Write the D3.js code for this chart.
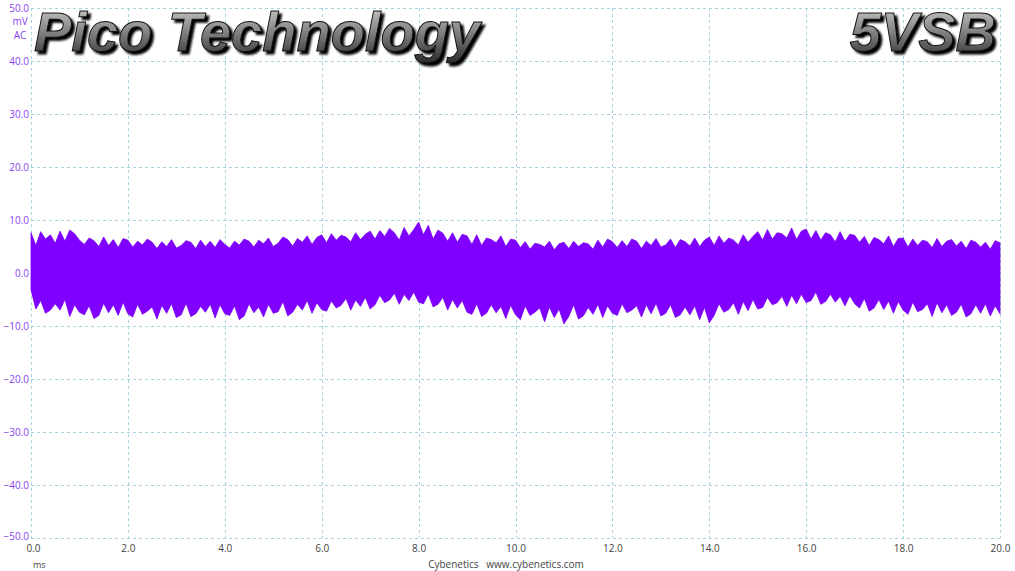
<!DOCTYPE html>
<html><head><meta charset="utf-8">
<script src="https://cdn.jsdelivr.net/npm/d3@7"></script>
<style>html,body{margin:0;padding:0;background:#fff;}svg{display:block;}</style>
</head><body>
<svg id="c" width="1015" height="571"></svg>
<script>
// Time axis (ms), step 0.1 ms
const xStart = 0, xStep = 0.1;
const xTicks = [0,2,4,6,8,10,12,14,16,18,20];
const yTicks = [50,40,30,20,10,0,-10,-20,-30,-40,-50];
// Upper envelope of the ripple band (mV)
const upper = [7.6,5.2,7.8,6.4,7.2,5.6,7.9,6.0,8.1,7.4,6.2,
5.4,6.6,6.1,5.0,6.8,5.2,6.3,4.8,6.5,6.2,
4.9,6.0,5.3,6.4,5.8,4.6,5.9,5.0,6.3,4.7,
5.2,6.1,5.8,4.6,6.2,5.0,6.0,4.8,6.3,5.4,
4.7,6.0,5.3,6.4,6.0,4.9,6.2,5.5,6.6,5.0,
5.6,6.8,6.3,5.1,6.5,5.8,7.0,5.4,6.7,7.2,
5.7,7.4,6.2,7.1,6.8,5.9,7.6,6.3,7.3,7.9,
6.4,8.0,6.9,8.4,7.6,6.2,8.6,7.0,8.2,9.6,
7.2,9.0,6.4,8.1,7.5,6.0,7.6,5.8,7.3,7.0,
5.4,7.2,5.2,6.6,6.3,5.7,7.0,5.0,6.4,6.2,
4.8,5.9,4.5,5.6,5.4,4.9,6.0,4.4,5.5,5.8,
4.6,6.0,5.0,5.7,5.5,4.5,6.2,4.9,6.4,5.9,
4.8,6.1,5.0,6.4,6.0,4.6,6.0,5.2,6.5,4.9,
5.3,6.4,4.8,6.3,5.9,5.1,6.6,5.0,6.2,6.8,
5.2,7.0,5.6,6.6,6.2,5.3,7.2,5.8,6.9,7.8,
6.2,8.2,6.4,7.6,7.4,6.6,8.5,6.3,7.9,8.3,
6.4,8.0,6.2,7.6,7.2,5.9,7.8,6.0,7.3,7.1,
5.8,6.9,5.2,6.7,6.3,5.5,7.0,5.0,6.5,6.6,
4.9,6.4,5.2,6.2,5.9,4.8,6.5,5.0,6.0,6.3,
5.1,6.0,4.6,6.2,5.8,4.9,5.8,4.5,6.1,5.7];
// Lower envelope of the ripple band (mV)
const lower = [-3.2,-6.8,-5.2,-7.6,-7.0,-5.8,-7.0,-5.0,-8.2,-6.0,-7.4,
-7.9,-6.2,-8.6,-8.0,-5.7,-7.5,-6.0,-8.0,-5.5,-7.7,
-8.3,-5.9,-7.8,-7.2,-6.4,-8.7,-6.1,-7.6,-5.8,-8.4,
-7.9,-5.7,-8.2,-7.7,-6.3,-7.4,-5.9,-8.5,-6.0,-7.7,
-8.0,-6.2,-8.8,-8.1,-5.8,-7.5,-6.4,-8.3,-5.9,-7.6,
-7.3,-5.4,-8.1,-7.4,-5.9,-7.0,-5.2,-7.6,-5.6,-6.9,
-7.2,-5.3,-6.6,-6.1,-4.8,-7.0,-5.1,-6.3,-4.6,-6.8,
-6.0,-4.2,-5.6,-5.1,-3.8,-5.9,-4.0,-5.2,-3.6,-5.5,
-5.8,-4.0,-6.4,-5.9,-4.6,-7.0,-5.0,-6.6,-5.2,-7.4,
-7.8,-5.8,-8.2,-7.6,-6.0,-7.5,-6.3,-8.6,-6.1,-7.9,
-8.8,-6.2,-8.0,-7.4,-6.6,-9.2,-6.4,-8.4,-6.8,-9.6,
-8.2,-6.0,-8.7,-8.1,-6.5,-7.8,-5.9,-8.4,-6.2,-7.6,
-8.0,-5.8,-7.5,-7.0,-6.2,-8.3,-6.0,-7.7,-5.7,-8.1,
-7.6,-6.0,-8.4,-7.9,-6.4,-7.9,-6.2,-8.8,-6.5,-9.4,
-8.0,-5.8,-7.4,-6.9,-5.6,-7.8,-5.4,-7.1,-5.0,-6.8,
-6.5,-4.6,-6.0,-5.6,-4.4,-6.3,-4.2,-5.8,-4.0,-5.6,
-5.2,-3.6,-5.9,-5.4,-4.0,-5.5,-4.4,-6.2,-4.3,-5.8,
-6.6,-4.8,-7.2,-6.6,-5.0,-6.9,-5.3,-7.6,-5.4,-7.0,
-7.8,-5.5,-7.3,-6.9,-5.8,-8.2,-5.6,-7.5,-6.0,-8.0,
-7.4,-5.9,-8.3,-7.7,-6.0,-7.6,-5.8,-8.1,-6.2,-7.7];
const title = "Pico Technology";
const rail = "5VSB";
const unitLines = ["mV","AC"];
const xUnit = "ms";
const credit = "Cybenetics   www.cybenetics.com";

const svg = d3.select("#c");
const L = 31, R = 1000, T = 8, B = 538;
const x = d3.scaleLinear().domain([0,20]).range([L,R]);
const y = d3.scaleLinear().domain([-50,50]).range([B,T]);
const font = "'Open Sans','DejaVu Sans',sans-serif";

const grid = svg.append("g").attr("stroke","#a8d4de").attr("stroke-width",1).attr("stroke-dasharray","3,3");
yTicks.forEach(v=>grid.append("line").attr("x1",L).attr("x2",R).attr("y1",Math.round(y(v))+0.5).attr("y2",Math.round(y(v))+0.5));
xTicks.forEach(v=>grid.append("line").attr("y1",T).attr("y2",B).attr("x1",Math.round(x(v))+0.5).attr("x2",Math.round(x(v))+0.5));

// y axis labels
const yAxis = d3.axisLeft(y).tickValues(yTicks).tickSize(0).tickPadding(2).tickFormat(d3.format(".1f"));
const ya = svg.append("g").attr("transform",`translate(${L},0)`).call(yAxis);
ya.select(".domain").remove();
ya.selectAll("text").attr("fill","#8a3ff0").style("font-family",font).style("font-size","10px");
ya.selectAll("text").filter(d=>d===-50).attr("dy","0.1em");
svg.selectAll(".unit").data(unitLines).join("text").attr("x",20).attr("y",(d,i)=>25+i*14)
  .attr("text-anchor","middle").attr("fill","#8a3ff0").style("font-family",font).style("font-size","10px").text(d=>d);

const xAxis = d3.axisBottom(x).tickValues(xTicks).tickSize(0).tickPadding(7).tickFormat(d3.format(".1f"));
const xa = svg.append("g").attr("transform",`translate(0,${B})`).call(xAxis);
xa.select(".domain").remove();
xa.selectAll("text").attr("fill","#444").style("font-family",font).style("font-size","10px");
xa.selectAll("text").filter(d=>d===0).attr("dx","2px");
svg.append("text").attr("x",33).attr("y",568).attr("fill","#444").style("font-family",font).style("font-size","9px").text(xUnit);
svg.append("text").attr("x",506).attr("y",568).attr("text-anchor","middle").attr("fill","#444").style("font-family",font).style("font-size","10px").attr("xml:space","preserve").text(credit);

// ripple band
const band = upper.map((u,i)=>({t:xStart+i*xStep,u:u,l:lower[i]}));
const area = d3.area().x(d=>x(d.t)).y0(d=>y(d.l)).y1(d=>y(d.u));
svg.append("path").datum(band).attr("d",area).attr("fill","#7f00ff").attr("stroke","#7a00f5").attr("stroke-width",0.8);

// titles (chrome look with drop shadow)
const defs = svg.append("defs");
const g = defs.append("linearGradient").attr("id","chrome").attr("x1",0).attr("x2",0).attr("y1",0).attr("y2",1);
g.append("stop").attr("offset","0%").attr("stop-color","#d8d8d8");
g.append("stop").attr("offset","45%").attr("stop-color","#8c8c8c");
g.append("stop").attr("offset","100%").attr("stop-color","#2a2a2a");
const f = defs.append("filter").attr("id","shadow").attr("x","-5%").attr("y","-20%").attr("width","115%").attr("height","150%");
f.append("feDropShadow").attr("dx",3).attr("dy",3).attr("stdDeviation",0.8).attr("flood-color","#000").attr("flood-opacity",1);
function drawTitle(txt, xx, anchor){
  svg.append("text").attr("x",xx).attr("y",51).attr("text-anchor",anchor).attr("fill","url(#chrome)").attr("stroke","#111").attr("stroke-width",1)
    .attr("filter","url(#shadow)")
    .style("font-family","'Liberation Sans',Arial,sans-serif").style("font-weight","bold").style("font-style","italic").style("font-size","56px").text(txt);
}
drawTitle(title, 34, "start");
drawTitle(rail, 996, "end");
</script>
</body></html>
